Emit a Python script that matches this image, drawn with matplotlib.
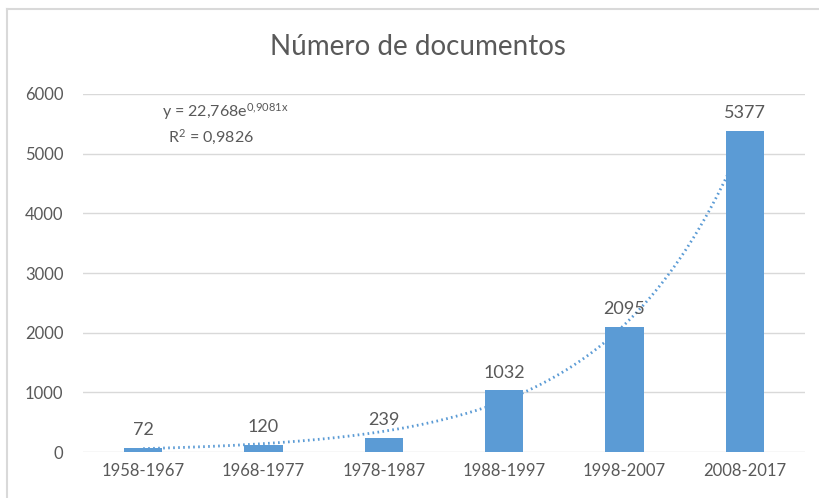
import numpy as np
import matplotlib
matplotlib.use("Agg")
import matplotlib.pyplot as plt

categories = ["1958-1967", "1968-1977", "1978-1987", "1988-1997", "1998-2007", "2008-2017"]
values = [72, 120, 239, 1032, 2095, 5377]
yticks = [0, 1000, 2000, 3000, 4000, 5000, 6000]
trend_a = 22.768
trend_b = 0.9081
r2 = 0.9826
title = "Número de documentos"

plt.rcParams['font.family'] = ['Lato', 'DejaVu Sans']
plt.rcParams['mathtext.fontset'] = 'custom'
plt.rcParams['mathtext.rm'] = 'Lato'
plt.rcParams['mathtext.it'] = 'Lato'

txt = '#595959'
bar_c = '#5B9BD5'

fig = plt.figure(figsize=(8.2, 4.98), dpi=100)
ax = fig.add_axes([83/820, 1-452/498, (805-83)/820, (452-94)/498])

x = np.arange(len(categories))
ax.bar(x, values, width=0.32, color=bar_c, zorder=3)

xs = np.linspace(1, len(categories), 200)
ax.plot(xs - 1, trend_a*np.exp(trend_b*xs), color=bar_c, lw=2, ls=(0, (0.6, 1.2)),
        zorder=2, dash_capstyle='butt')

for xi, v in zip(x, values):
    ax.annotate(str(v), (xi, v), xytext=(0, 7), textcoords='offset points',
                ha='center', va='bottom', fontsize=13, color=txt)

ax.set_xlim(-0.5, len(categories)-0.5)
ax.set_ylim(0, 6000)
ax.set_yticks(yticks)
ax.set_yticklabels([str(t) for t in yticks])
ax.set_xticks(x)
ax.set_xticklabels(categories)
ax.tick_params(axis='both', length=0, labelsize=12, colors=txt)
ax.tick_params(axis='y', pad=14)
ax.tick_params(axis='x', pad=8)
ax.grid(axis='y', color='#D9D9D9', lw=1, zorder=0)
ax.set_axisbelow(True)
for s in ax.spines.values():
    s.set_visible(False)

fig.text(418/820, 1-47/498, title, ha='center', va='center', fontsize=20, color=txt)
fig.text(225/820, 1-112/498, r'y = 22,768e$^{0{,}9081x}$', ha='center', va='center',
         fontsize=11.5, color=txt)
fig.text(211/820, 1-137/498, r'R$^{2}$ = 0,9826', ha='center', va='center',
         fontsize=11.5, color=txt)

# chart border (left and top visible)
fig.add_artist(plt.Line2D([7/820, 7/820], [0, 1-9/498], transform=fig.transFigure,
                          color='#D9D9D9', lw=1.5))
fig.add_artist(plt.Line2D([7/820, 1], [1-9/498, 1-9/498], transform=fig.transFigure,
                          color='#D9D9D9', lw=1.5))

fig.savefig("out.png", dpi=100)
